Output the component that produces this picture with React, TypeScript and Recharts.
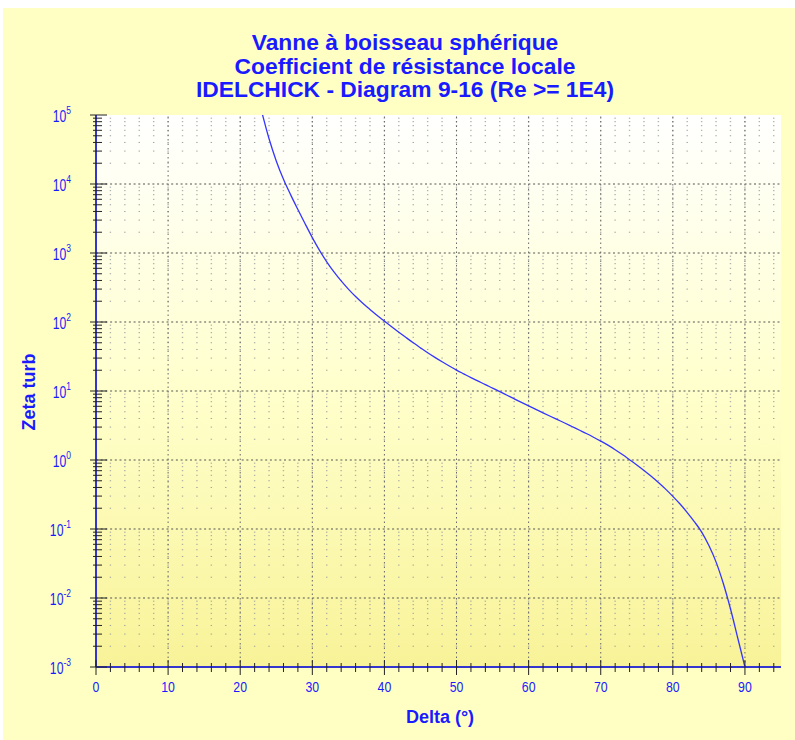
import React from "react";
import { LineChart, Line, XAxis, YAxis, CartesianGrid, ReferenceLine } from "recharts";

const deltaDeg = [23, 24, 25, 26, 27, 28, 29, 30, 31, 32, 33, 34, 35, 36, 37, 38, 39, 40, 41, 42, 43, 44, 45, 46, 47, 48, 49, 50, 51, 52, 53, 54, 55, 56, 57, 58, 59, 60, 61, 62, 63, 64, 65, 66, 67, 68, 69, 70, 71, 72, 73, 74, 75, 76, 77, 78, 79, 80, 81, 82, 83, 84, 85, 86, 87, 88, 89, 90];
const zetaTurb = [
  110000, 45200, 21600, 11700, 6960, 4270, 2650, 1670, 1090, 746,
  532, 394, 300, 234, 187, 152, 124, 103, 85.5, 71.2,
  59.5, 49.9, 42.2, 35.8, 30.7, 26.5, 23.0, 20.1, 17.7, 15.6,
  13.9, 12.4, 11.0, 9.79, 8.69, 7.71, 6.84, 6.08, 5.42, 4.83,
  4.31, 3.85, 3.44, 3.06, 2.72, 2.42, 2.14, 1.88, 1.64, 1.41,
  1.2, 1.01, 0.848, 0.706, 0.581, 0.472, 0.378, 0.297, 0.23, 0.173,
  0.127, 0.0903, 0.0575, 0.0331, 0.0162, 0.00692, 0.00263, 0.001,
];

const xTicks = [0, 2, 4, 6, 8, 10, 12, 14, 16, 18, 20, 22, 24, 26, 28, 30, 32, 34, 36, 38, 40, 42, 44, 46, 48, 50, 52, 54, 56, 58, 60, 62, 64, 66, 68, 70, 72, 74, 76, 78, 80, 82, 84, 86, 88, 90, 92, 94];
const xLabels = [0, 10, 20, 30, 40, 50, 60, 70, 80, 90];
const yDecades = [0.001, 0.01, 0.1, 1, 10, 100, 1000, 10000, 100000];
const yExponents = ["-3", "-2", "-1", "0", "1", "2", "3", "4", "5"];
const yMinorSteps = [2, 3, 4, 5, 6, 7, 8, 9];

const title = ["Vanne à boisseau sphérique", "Coefficient de résistance locale", "IDELCHICK - Diagram 9-16 (Re >= 1E4)"];

const data = deltaDeg.map((d, i) => ({ delta: d, zeta: zetaTurb[i] }));
const yMinor = yDecades.slice(0, -1).flatMap((d) => yMinorSteps.map((k) => +(d * k).toPrecision(3)));
const yAllTicks = [...yDecades, ...yMinor].sort((a, b) => a - b);
const decadeIndex = (v: number) => yDecades.findIndex((d) => Math.abs(d - v) / d < 1e-6);

const FONT = "'Liberation Sans', Arial, sans-serif";
const BLUE = "#1a1aff";
const AXIS = "#3535d0";

function BottomTick({ x, y, payload }: any) {
  const v = payload.value;
  const major = xLabels.includes(v);
  return (
    <g>
      <line x1={x} x2={x} y1={y - (major ? 7 : 4)} y2={y + (major ? 8 : 5)} stroke="#222" />
      {major && (
        <text transform={`translate(${x},${y + 25}) scale(0.82,1)`} textAnchor="middle" fill={BLUE} fontSize={15} fontFamily={FONT}>
          {v}
        </text>
      )}
    </g>
  );
}

function TopTick({ x, y, payload }: any) {
  const major = xLabels.includes(payload.value);
  return <line x1={x} x2={x} y1={y} y2={y + (major ? 6 : 4)} stroke="#222" />;
}

function LeftTick({ x, y, payload }: any) {
  const i = decadeIndex(payload.value);
  const major = i >= 0;
  return (
    <g>
      <line x1={x - (major ? 6 : 3)} x2={x + (major ? 11 : 6)} y1={y} y2={y} stroke="#222" />
      {major && (
        <g transform={`translate(${x - 25},${y + 6.5}) scale(0.74,1)`}>
          <text textAnchor="end" fill={BLUE} fontSize={16.5} fontFamily={FONT}>
            10<tspan dy={-8} fontSize={11.5}>{yExponents[i]}</tspan>
          </text>
        </g>
      )}
    </g>
  );
}

function RightTick({ x, y, payload }: any) {
  const major = decadeIndex(payload.value) >= 0;
  return <line x1={x - (major ? 7 : 4)} x2={x} y1={y} y2={y} stroke="#222" />;
}

export default function App() {
  return (
    <div style={{ position: "absolute", left: 0, top: 0, width: 795, height: 740 }}>
      <div style={{ position: "absolute", left: 3, top: 8, width: 792, height: 732, background: "#ffffc4" }} />
      <div style={{ position: "absolute", left: 0, top: 0 }}>
        <LineChart width={795} height={740} data={data} margin={{ top: 115, right: 14, bottom: 43, left: 46 }}>
          <defs>
            <linearGradient id="plotBg" x1="0" y1="0" x2="0" y2="1">
              <stop offset="0%" stopColor="#ffffff" />
              <stop offset="50%" stopColor="#ffffcc" />
              <stop offset="100%" stopColor="#f8f398" />
            </linearGradient>
          </defs>
          <CartesianGrid horizontal={false} vertical={false} fill="url(#plotBg)" fillOpacity={1} />
          <XAxis xAxisId="b" dataKey="delta" type="number" domain={[0, 95]} ticks={xTicks} interval={0}
            tickSize={0} tickMargin={0} height={30} tick={<BottomTick />}
            axisLine={{ stroke: AXIS, strokeWidth: 2 }} tickLine={false} allowDataOverflow />
          <XAxis xAxisId="t" orientation="top" dataKey="delta" type="number" domain={[0, 95]} ticks={xTicks} interval={0}
            tickSize={0} tickMargin={0} height={0} tick={<TopTick />}
            axisLine={{ stroke: "#4a4ae0", strokeWidth: 2 }} tickLine={false} allowDataOverflow />
          <YAxis yAxisId="l" dataKey="zeta" type="number" scale="log" domain={[0.001, 100000]} ticks={yAllTicks} interval={0}
            tickSize={0} tickMargin={0} width={50} tick={<LeftTick />}
            axisLine={{ stroke: AXIS, strokeWidth: 2 }} tickLine={false} allowDataOverflow />
          <YAxis yAxisId="r" orientation="right" type="number" scale="log" domain={[0.001, 100000]} ticks={yAllTicks} interval={0}
            tickSize={0} tickMargin={0} width={0} tick={<RightTick />}
            axisLine={{ stroke: "#4a4ae0", strokeWidth: 2 }} tickLine={false} allowDataOverflow />
          {yMinor.map((v) => (
            <ReferenceLine key={"hm" + v} xAxisId="b" yAxisId="l" y={v} stroke="#a0a0a0" strokeDasharray="1.4 13.02" strokeDashoffset={0.7} />
          ))}
          {yDecades.slice(1, -1).map((v) => (
            <ReferenceLine key={"hM" + v} xAxisId="b" yAxisId="l" y={v} stroke="#555" strokeDasharray="2 2.7" />
          ))}
          {xLabels.slice(1).map((v) => (
            <ReferenceLine key={"vM" + v} xAxisId="b" yAxisId="l" x={v} stroke="#666" strokeDasharray="1.5 3" />
          ))}
          <Line xAxisId="b" yAxisId="l" type="monotone" dataKey="zeta" stroke="#3535ff" strokeWidth={1.3} dot={false} isAnimationActive={false} />
        </LineChart>
      </div>
      <svg width={795} height={740} style={{ position: "absolute", left: 0, top: 0, pointerEvents: "none" }}>
        {title.map((t, i) => (
          <text key={t} x={405} y={50 + i * 23.5} textAnchor="middle" fill={BLUE} fontSize={22.8} fontWeight="bold" fontFamily={FONT}>
            {t}
          </text>
        ))}
        <text x={440} y={723} textAnchor="middle" fill={BLUE} fontSize={18} fontWeight="bold" fontFamily={FONT}>
          Delta (°)
        </text>
        <text transform="translate(35,392) rotate(-90)" textAnchor="middle" fill={BLUE} fontSize={18} fontWeight="bold" fontFamily={FONT}>
          Zeta turb
        </text>
      </svg>
    </div>
  );
}
